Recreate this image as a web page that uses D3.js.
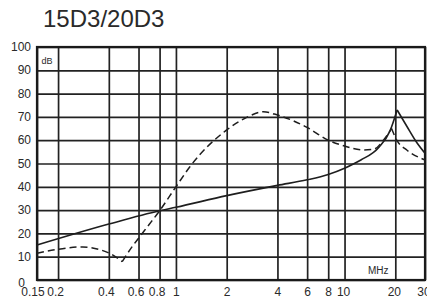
<!DOCTYPE html>
<html>
<head>
<meta charset="utf-8">
<script src="https://cdn.jsdelivr.net/npm/d3@7"></script>
<style>
  body { margin: 0; background: #fff; }
  text { font-family: "Liberation Sans", Arial, sans-serif; fill: #2a2a2a; }
</style>
</head>
<body>
<svg id="chart" width="427" height="298"></svg>
<script>
const title = '15D3/20D3'
const xTickLabels = ['0.15', '0.2', '0.4', '0.6', '0.8', '1', '2', '4', '6', '8', '10', '20', '30']
const yTickValues = [0, 10, 20, 30, 40, 50, 60, 70, 80, 90, 100]

// solid curve
const solidFreq = [0.15, 0.4, 0.8, 1, 2, 4, 6, 8, 10, 12.5, 16, 18.6, 20.5, 23.4, 26.8, 30]
const solidDb = [15, 24, 29.7, 31.2, 36.2, 40.6, 43, 45.3, 48, 51.5, 57, 64, 73, 66, 59, 54.4]
const solidCusps = [20.5]

// dashed curve
const dashFreq = [0.15, 0.2, 0.28, 0.355, 0.416, 0.48, 0.55, 0.61, 0.69, 0.8, 1, 1.21, 2, 2.63, 3.3, 4, 6, 8, 10, 13, 15, 17, 19, 20.4, 23.4, 30]
const dashDb = [11.5, 13.2, 14.2, 13, 11, 7.9, 14.3, 18.6, 23.6, 29.7, 40, 48.6, 64.4, 69.8, 72.2, 70.8, 65.5, 60, 57.5, 55.8, 56.2, 60, 65, 60, 55.8, 51.5]
const dashCusps = [0.48, 19]

const svg = d3.select('#chart')
const pLeft = 37, pRight = 425, pTop = 47, pBottom = 280

const x = d3.scaleLog().domain([0.15, 30]).range([pLeft, pRight])
const y = d3.scaleLinear().domain([0, 100]).range([pBottom, pTop])

svg.append('text')
  .attr('x', 43).attr('y', 26.5)
  .style('font-size', '24px')
  .text(title)

// x grid + labels
const gx = svg.append('g').attr('transform', `translate(0,${pBottom})`)
  .call(d3.axisBottom(x)
    .tickValues(xTickLabels.map(Number))
    .tickSize(-(pBottom - pTop))
    .tickPadding(7)
    .tickFormat((d, i) => xTickLabels[i]))
gx.select('.domain').remove()
gx.selectAll('line').attr('stroke', '#222').attr('stroke-width', 1.7)
gx.selectAll('text')
  .attr('fill', '#2a2a2a')
  .style('font-size', '12px')
  .style('font-family', '"Liberation Sans", Arial, sans-serif')
  .attr('dx', (d, i) => -1.5 * (xTickLabels[i].length - 1))

// y grid + labels
const gy = svg.append('g').attr('transform', `translate(${pLeft},0)`)
  .call(d3.axisLeft(y)
    .tickValues(yTickValues)
    .tickSize(-(pRight - pLeft))
    .tickPadding(6))
gy.select('.domain').remove()
gy.selectAll('line').attr('stroke', '#222').attr('stroke-width', 1.7)
gy.selectAll('text')
  .attr('fill', '#2a2a2a')
  .style('font-size', '12px')
  .style('font-family', '"Liberation Sans", Arial, sans-serif')
  .attr('dx', (d) => d === 0 ? -6 : 0)
  .attr('dy', (d) => d === 0 ? '0.55em' : '0.3em')

// frame
svg.append('rect')
  .attr('x', pLeft).attr('y', pTop)
  .attr('width', pRight - pLeft).attr('height', pBottom - pTop)
  .attr('fill', 'none').attr('stroke', '#1a1a1a').attr('stroke-width', 2.2)

svg.append('text').attr('x', 41.5).attr('y', 63.5).style('font-size', '9px').text('dB')
svg.append('text').attr('x', 368).attr('y', 273.5).style('font-size', '10px').text('MHz')

// split a series at its cusp points so each piece is smooth but the peak stays sharp
const pieces = (freqs, dbs, cusps) => {
  const pts = freqs.map((f, i) => [f, dbs[i]])
  const out = []
  let cur = []
  pts.forEach((p) => {
    cur.push(p)
    if (cusps.includes(p[0])) { out.push(cur); cur = [p] }
  })
  out.push(cur)
  return out
}

const line = d3.line().x((d) => x(d[0])).y((d) => y(d[1])).curve(d3.curveMonotoneX)

svg.append('g').selectAll('path')
  .data(pieces(dashFreq, dashDb, dashCusps)).enter()
  .append('path')
  .attr('d', line)
  .attr('fill', 'none').attr('stroke', '#1e1e1e').attr('stroke-width', 1.5)
  .attr('stroke-dasharray', '7,4')

svg.append('g').selectAll('path')
  .data(pieces(solidFreq, solidDb, solidCusps)).enter()
  .append('path')
  .attr('d', line)
  .attr('fill', 'none').attr('stroke', '#1e1e1e').attr('stroke-width', 1.6)
</script>
</body>
</html>
